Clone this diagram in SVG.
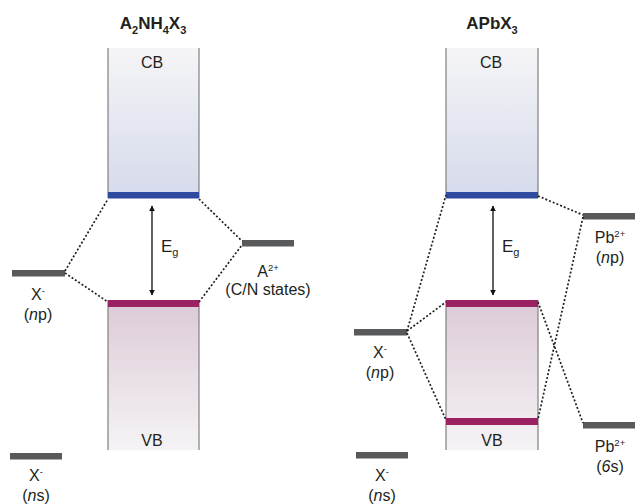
<svg xmlns="http://www.w3.org/2000/svg" width="635" height="504" viewBox="0 0 635 504">
<style>
text{font-family:"Liberation Sans",Arial,sans-serif;fill:#231f20;}
.t{font-size:17px;font-weight:bold;text-anchor:middle;}
.l{font-size:16px;text-anchor:middle;}
.e{font-size:17px;}
.sup{font-size:9.5px;}
.sub{font-size:11px;}
.side{stroke:#808080;stroke-width:1.2;fill:none;}
.lvl{fill:#58595b;}
.cbb{fill:#2e4a9e;}
.vbb{fill:#9a2263;}
.dot{stroke:#231f20;stroke-width:1.7;stroke-dasharray:2 2;fill:none;}
.arr{stroke:#3a3a3a;stroke-width:1.6;fill:none;marker-start:url(#ah);marker-end:url(#ah);}
</style>
<defs>
<linearGradient id="gcb" x1="0" y1="0" x2="0" y2="1">
<stop offset="0" stop-color="#f5f5f7"/>
<stop offset="1" stop-color="#d5daeb"/>
</linearGradient>
<linearGradient id="gvb" x1="0" y1="0" x2="0" y2="1">
<stop offset="0" stop-color="#dccad7"/>
<stop offset="1" stop-color="#f5f3f5"/>
</linearGradient>
<marker id="ah" viewBox="0 0 10 10" refX="9" refY="5" markerWidth="6" markerHeight="6" orient="auto-start-reverse" markerUnits="userSpaceOnUse">
<path d="M0,0 L10,5 L0,10 z" fill="#111"/>
</marker>
</defs>

<!-- Left panel -->
<g id="title-left"><text class="t" x="153" y="29">A<tspan class="sub" dy="5">2</tspan><tspan dy="-5">NH</tspan><tspan class="sub" dy="5">4</tspan><tspan dy="-5">X</tspan><tspan class="sub" dy="5">3</tspan></text></g>

<g id="cb-left">
<rect x="108" y="48" width="91" height="150" fill="url(#gcb)"/>
<path class="side" d="M108,48 V198 M199,48 V198"/>
<rect class="cbb" x="108" y="192" width="91" height="6.5"/>
<text class="l" x="152" y="68">CB</text>
</g>

<g id="vb-left">
<rect x="108" y="300" width="91" height="150" fill="url(#gvb)"/>
<path class="side" d="M108,300 V450 M199,300 V450"/>
<rect class="vbb" x="108" y="300" width="91" height="7"/>
<text class="l" x="152" y="446">VB</text>
</g>

<g id="eg-left">
<line class="arr" x1="152" y1="206" x2="152" y2="295"/>
<text class="e" x="161" y="252">E<tspan class="sub" dy="4">g</tspan></text>
</g>

<g id="xnp-left">
<rect class="lvl" x="12" y="270" width="53" height="6.5"/>
<text class="l" x="38" y="300">X<tspan class="sup" dy="-6">-</tspan></text>
<text class="l" x="38" y="320">(<tspan font-style="italic">n</tspan>p)</text>
</g>

<g id="xns-left">
<rect class="lvl" x="10" y="453" width="52" height="6.5"/>
<text class="l" x="36" y="481">X<tspan class="sup" dy="-6">-</tspan></text>
<text class="l" x="36" y="501">(<tspan font-style="italic">n</tspan>s)</text>
</g>

<g id="a2-left">
<rect class="lvl" x="242" y="240" width="52" height="6.5"/>
<text class="l" x="268" y="277">A<tspan class="sup" dy="-6">2+</tspan></text>
<text class="l" x="268" y="295">(C/N states)</text>
</g>

<!-- Right panel -->
<g id="title-right"><text class="t" x="492" y="29">APbX<tspan class="sub" dy="5">3</tspan></text></g>

<g id="cb-right">
<rect x="446" y="48" width="92" height="150" fill="url(#gcb)"/>
<path class="side" d="M446,48 V198 M538,48 V198"/>
<rect class="cbb" x="446" y="192" width="92" height="6.5"/>
<text class="l" x="491" y="68">CB</text>
</g>

<g id="vb-right">
<rect x="446" y="300" width="92" height="150" fill="url(#gvb)"/>
<path class="side" d="M446,300 V450 M538,300 V450"/>
<rect class="vbb" x="446" y="300" width="92" height="7"/>
<rect class="vbb" x="446" y="418" width="92" height="7"/>
<text class="l" x="492" y="446">VB</text>
</g>

<g id="eg-right">
<line class="arr" x1="493" y1="206" x2="493" y2="295"/>
<text class="e" x="502" y="252">E<tspan class="sub" dy="4">g</tspan></text>
</g>

<g id="xnp-right">
<rect class="lvl" x="354" y="329" width="53" height="6.5"/>
<text class="l" x="380" y="358">X<tspan class="sup" dy="-6">-</tspan></text>
<text class="l" x="380" y="378">(<tspan font-style="italic">n</tspan>p)</text>
</g>

<g id="xns-right">
<rect class="lvl" x="356" y="452" width="52" height="6.5"/>
<text class="l" x="382" y="481">X<tspan class="sup" dy="-6">-</tspan></text>
<text class="l" x="382" y="501">(<tspan font-style="italic">n</tspan>s)</text>
</g>

<g id="pbnp-right">
<rect class="lvl" x="583" y="213" width="52" height="6.5"/>
<text class="l" x="610" y="243">Pb<tspan class="sup" dy="-6">2+</tspan></text>
<text class="l" x="610" y="263">(<tspan font-style="italic">n</tspan>p)</text>
</g>

<g id="pb6s-right">
<rect class="lvl" x="583" y="422" width="52" height="6.5"/>
<text class="l" x="610" y="452">Pb<tspan class="sup" dy="-6">2+</tspan></text>
<text class="l" x="610" y="472">(<tspan font-style="italic">6</tspan>s)</text>
</g>

<g id="connectors">
<path class="dot" d="M65,271 L108,199"/>
<path class="dot" d="M65,273 L108,302"/>
<path class="dot" d="M199,199 L242,241"/>
<path class="dot" d="M199,302 L242,245"/>
<path class="dot" d="M407,331 L446,195"/>
<path class="dot" d="M407,331 L446,302"/>
<path class="dot" d="M407,333 L446,420"/>
<path class="dot" d="M538,196 L583,215"/>
<path class="dot" d="M583,217 L538,419"/>
<path class="dot" d="M538,302 L583,423"/>
</g>
</svg>
